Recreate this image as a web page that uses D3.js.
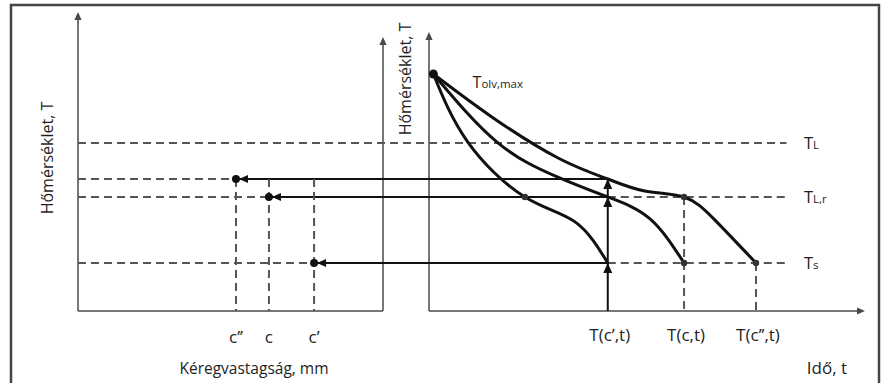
<!DOCTYPE html>
<html><head><meta charset="utf-8">
<script src="https://cdn.jsdelivr.net/npm/d3@7"></script>
<style>
html,body{margin:0;padding:0;background:#fff;}
svg{display:block;}
text{font-family:"Open Sans","Liberation Sans",sans-serif;fill:#1e1e1e;}
</style></head>
<body>
<svg id="chart" width="884" height="383"></svg>
<script>
// ---- data (schematic units) ----
const levelNames = ["T|L", "T|L,r", "T|s"];
const levelValues = [56, 38, 16];
const maxTemp = 79;
const maxLabel = "T|olv,max";
const arrowTemps = [44, 38, 16];            // c'', c, c'
const thicknessLabels = ["c’’", "c", "c’"];
const thicknessValues = [51.8, 62.6, 77.4];
const timeLabels = ["T(c’,t)", "T(c,t)", "T(c’’,t)"];
const timeValues = [41, 58.5, 75];
const curveInner = [[1,79],[8.9,56.3],[22,38],[33.5,29.7],[41,16]];
const curveMiddle = [[1,79],[15.6,56.3],[29.4,44.7],[41,38],[50.7,30.7],[58.5,16]];
const curveOuter = [[1,79],[14.4,64.7],[29.6,51],[41,44],[49.5,40],[58.5,38],[65.6,30.3],[75,16]];
const xLabelLeft = "Kéregvastagság, mm";
const xLabelRight = "Idő, t";
const yLabel = "Hőmérséklet, T";

// ---- scales ----
const svg = d3.select("#chart");
const yT = d3.scaleLinear().domain([0,100]).range([311,11]);
const xTh = d3.scaleLinear().domain([0,100]).range([78,383]);
const xTime = d3.scaleLinear().domain([0,100]).range([429,865]);

const axisCol = "#4a4a4a", dashCol = "#555", ink = "#111";

// frame
svg.append("rect").attr("x",11).attr("y",5).attr("width",868).attr("height",420)
  .attr("fill","none").attr("stroke","#444").attr("stroke-width",2.5);

function arrowHead(x,y,dir,size,col){
  const s=size;
  let p;
  if(dir==="up") p=[[x,y],[x-s*0.45,y+s],[x+s*0.45,y+s]];
  else if(dir==="left") p=[[x,y],[x+s,y-s*0.45],[x+s,y+s*0.45]];
  else p=[[x,y],[x-s,y-s*0.45],[x-s,y+s*0.45]];
  svg.append("path").attr("d","M"+p.map(d=>d.join(",")).join("L")+"Z").attr("fill",col);
}
function line(x1,y1,x2,y2,col,w,dash){
  const l=svg.append("line").attr("x1",x1).attr("y1",y1).attr("x2",x2).attr("y2",y2)
    .attr("stroke",col).attr("stroke-width",w);
  if(dash) l.attr("stroke-dasharray",dash);
  return l;
}

// ---- left panel axes ----
line(xTh(0),yT(0),xTh(0),yT(99.5)+2,axisCol,1.5);
arrowHead(xTh(0),yT(99.7),"up",8,axisCol);
line(xTh(0),yT(0),xTh(100),yT(0),axisCol,1.5);
line(xTh(100),yT(0),xTh(100),yT(91.3)+2,axisCol,1.5);
arrowHead(xTh(100),yT(91.3),"up",8,axisCol);

// ---- right panel axes ----
line(xTime(0),yT(0),xTime(0),yT(93)+2,axisCol,1.5);
arrowHead(xTime(0),yT(93),"up",8,axisCol);
line(xTime(0),yT(0),xTime(100)-2,yT(0),axisCol,1.5);
arrowHead(xTime(100),yT(0),"right",8,axisCol);

const dash="8,5";
line(xTh(0),yT(levelValues[0]),xTime(82),yT(levelValues[0]),dashCol,2,dash);
arrowTemps.forEach((T,i)=>{
  const xd=xTh(thicknessValues[i]);
  line(xTh(0),yT(T),xd,yT(T),dashCol,2,dash);
  line(xd+3,yT(T),xTime(timeValues[0]),yT(T),ink,2);
  arrowHead(xd+3,yT(T),"left",9,ink);
  line(xd,yT(arrowTemps[0]),xd,yT(0),dashCol,2,dash);
});
[levelValues[1],levelValues[2]].forEach(T=>{
  line(xTime(timeValues[0]),yT(T),xTime(82),yT(T),dashCol,2,dash);
});
line(xTime(timeValues[1]),yT(levelValues[1]),xTime(timeValues[1]),yT(0),dashCol,2,dash);
line(xTime(timeValues[2]),yT(levelValues[2]),xTime(timeValues[2]),yT(0),dashCol,2,dash);
line(xTime(timeValues[0]),yT(0),xTime(timeValues[0]),yT(arrowTemps[0]),ink,2);
arrowTemps.forEach(T=>arrowHead(xTime(timeValues[0]),yT(T),"up",10,ink));

// ---- curves ----
const gen=d3.line().x(d=>xTime(d[0])).y(d=>yT(d[1])).curve(d3.curveNatural);
[curveInner,curveMiddle,curveOuter].forEach(c=>{
  svg.append("path").attr("d",gen(c)).attr("fill","none").attr("stroke",ink).attr("stroke-width",3)
    .attr("stroke-linecap","round");
});

// dots
svg.append("circle").attr("cx",xTime(curveOuter[0][0])).attr("cy",yT(maxTemp)).attr("r",4.5).attr("fill",ink);
arrowTemps.forEach((T,i)=>svg.append("circle").attr("cx",xTh(thicknessValues[i])).attr("cy",yT(T)).attr("r",4).attr("fill",ink));
const smallDots=[[curveInner[2][0],levelValues[1]],[timeValues[1],levelValues[1]],[timeValues[1],levelValues[2]],[timeValues[2],levelValues[2]]];
smallDots.forEach(d=>svg.append("circle").attr("cx",xTime(d[0])).attr("cy",yT(d[1])).attr("r",3.2).attr("fill","#333"));

// ---- text ----
function subLabel(txt,x,y,big,small,anchor){
  const [a,b]=txt.split("|");
  const t=svg.append("text").attr("x",x).attr("y",y).attr("text-anchor",anchor||"start");
  t.append("tspan").text(a).attr("font-size",big);
  t.append("tspan").text(b).attr("font-size",small);
}
levelNames.forEach((n,i)=>subLabel(n,xTime(86),yT(levelValues[i])+6,16.5,11.5));
subLabel(maxLabel,xTime(10),yT(maxTemp)+14,16,11.5);

thicknessLabels.forEach((l,i)=>svg.append("text").attr("x",xTh(thicknessValues[i])).attr("y",343)
  .attr("text-anchor","middle").attr("font-size",17).text(l));
timeLabels.forEach((l,i)=>svg.append("text").attr("x",xTime(timeValues[i])+2).attr("y",341)
  .attr("text-anchor","middle").attr("font-size",17).text(l));
svg.append("text").attr("x",254).attr("y",374).attr("text-anchor","middle").attr("font-size",15.5).text(xLabelLeft);
svg.append("text").attr("x",827).attr("y",374).attr("text-anchor","middle").attr("font-size",17).text(xLabelRight);
svg.append("text").attr("transform","translate(53,158) rotate(-90)").attr("text-anchor","middle").attr("font-size",16).text(yLabel);
svg.append("text").attr("transform","translate(411,79) rotate(-90)").attr("text-anchor","middle").attr("font-size",16).text(yLabel);
</script>
</body></html>
